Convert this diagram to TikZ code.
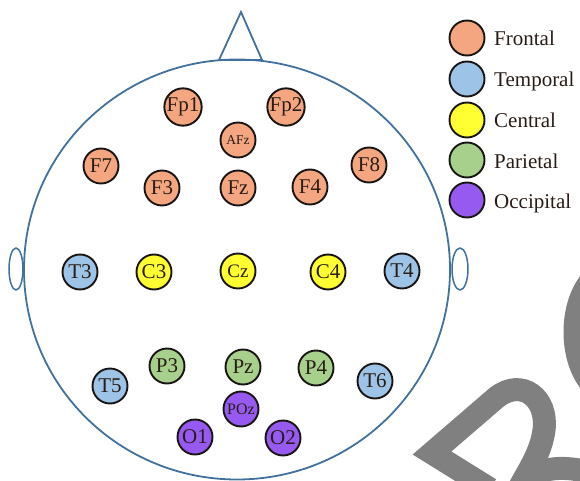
\documentclass[tikz,border=0pt]{standalone}
\usepackage{fontspec}
\setmainfont{Liberation Serif}
\definecolor{frontalc}{RGB}{244,166,128}
\definecolor{temporalc}{RGB}{157,195,230}
\definecolor{centralc}{RGB}{255,255,50}
\definecolor{parietalc}{RGB}{168,208,141}
\definecolor{occipitalc}{RGB}{150,90,240}
\definecolor{headc}{RGB}{65,113,156}
\definecolor{wmc}{RGB}{128,128,128}
\definecolor{edgec}{RGB}{25,20,20}
\definecolor{labc}{RGB}{40,28,22}
\begin{document}
\begin{tikzpicture}[x=1pt,y=-1pt,
  elec/.style={circle,draw=edgec,line width=1.9pt,minimum size=35pt,inner sep=0pt,
    font=\fontsize{21}{21}\selectfont,text=labc},
  fro/.style={elec,fill=frontalc},
  tem/.style={elec,fill=temporalc},
  cen/.style={elec,fill=centralc},
  par/.style={elec,fill=parietalc},
  occ/.style={elec,fill=occipitalc},
  small/.style={font=\fontsize{13.5}{13.5}\selectfont},
  mid/.style={font=\fontsize{16}{16}\selectfont},
  headline/.style={draw=headc,line width=1.8pt},
  earline/.style={draw=headc,line width=1.5pt},
  legtext/.style={anchor=base west,inner sep=0pt,font=\fontsize{21}{21}\selectfont,text=labc},
  wm/.style={draw=wmc,line width=23pt,line join=miter}]
\useasboundingbox (0,0) rectangle (580,481);
% head
\draw[headline] (237,269.5) ellipse [x radius=213pt, y radius=210pt];
\draw[headline,line join=miter] (219,60) -- (241,12) -- (262,60) -- cycle;
\draw[earline] (16,269) ellipse [x radius=7pt, y radius=21pt];
\draw[earline] (460,269) ellipse [x radius=8pt, y radius=21pt];
% electrodes
\node[fro] (Fp1) at (183,107) {Fp1};
\node[fro] (Fp2) at (286,107) {Fp2};
\node[fro,small] (AFz) at (238,140) {AFz};
\node[fro] (F7) at (101,166) {F7};
\node[fro] (F3) at (162,188) {F3};
\node[fro] (Fz) at (238,188) {Fz};
\node[fro] (F4) at (310,187) {F4};
\node[fro] (F8) at (369,165) {F8};
\node[tem] (T3) at (80,272) {T3};
\node[cen] (C3) at (154,272) {C3};
\node[cen,font=\fontsize{19}{19}\selectfont] (Cz) at (238,271) {Cz};
\node[cen] (C4) at (328,272) {C4};
\node[tem] (T4) at (402,271) {T4};
\node[par] (P3) at (167,366) {P3};
\node[par] (Pz) at (243,367) {Pz};
\node[par] (P4) at (316,368) {P4};
\node[tem] (T5) at (110,386) {T5};
\node[tem] (T6) at (375,381) {T6};
\node[occ,mid] (POz) at (241,409) {POz};
\node[occ] (O1) at (195,437) {O1};
\node[occ] (O2) at (283,438) {O2};
% legend
\node[fro] (LF) at (467,38) {};
\node[tem] (LT) at (467,79) {};
\node[cen] (LC) at (467,120) {};
\node[par] (LP) at (467,160) {};
\node[occ] (LO) at (467,200) {};
\node[legtext] (LFt) at (494,46) {Frontal};
\node[legtext] (LTt) at (494,87) {Temporal};
\node[legtext] (LCt) at (494,128) {Central};
\node[legtext] (LPt) at (494,168) {Parietal};
\node[legtext] (LOt) at (494,208) {Occipital};
% watermark
\begin{scope}
\clip (0,0) rectangle (580,481);
\draw[wm] (490,489) -- (432,453) -- (497,397) .. controls (522,378) and (548,398) .. (544,430) .. controls (541,452) and (530,468) .. (518,490);
\draw[wm] (527,478) .. controls (545,466) and (570,466) .. (595,474);
\draw[wm] (612,332) ellipse [x radius=37pt, y radius=62pt];
\end{scope}
\end{tikzpicture}
\end{document}
